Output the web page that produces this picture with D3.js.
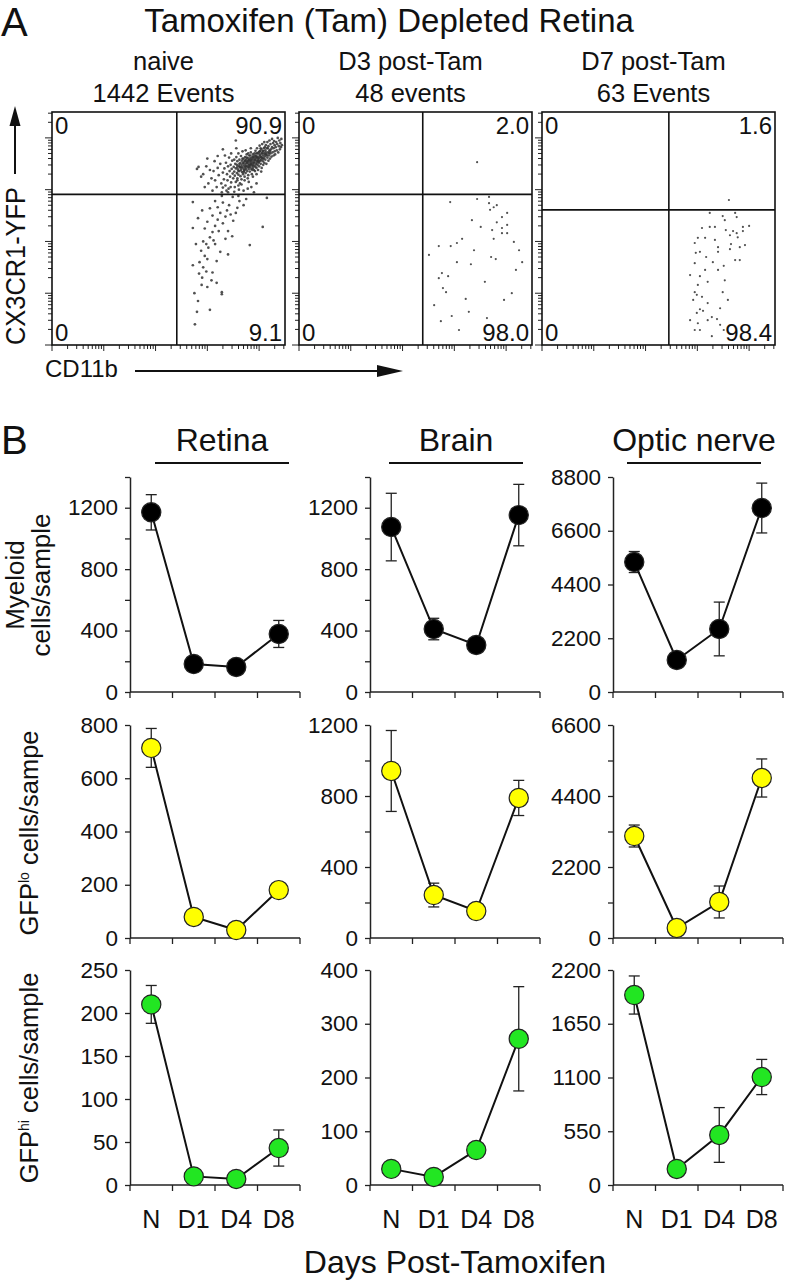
<!DOCTYPE html>
<html>
<head>
<meta charset="utf-8">
<script src="https://cdn.jsdelivr.net/npm/d3@7"></script>
<style>
  body { margin: 0; background: #fff; }
  svg text { font-family: "Liberation Sans", Arial, Helvetica, sans-serif; fill: #111; }
</style>
</head>
<body>
<div id="chart"></div>
<script>
// ---- A: flow events, stored as log10 fluorescence (x = CD11b, y = CX3CR1-YFP)
const naiveEvents = [
  [2.92,3.30],[2.98,3.45],[3.02,3.12],[3.05,3.38],[3.08,3.22],[3.10,2.98],[2.95,3.05],
  [3.12,3.36],[3.15,3.18],[3.18,3.05],[3.20,3.42],[3.22,3.28],[3.25,3.50],[3.27,3.12],[3.28,2.95],[3.30,3.33],[3.14,3.55],
  [3.32,3.20],[3.33,3.41],[3.35,3.08],[3.36,3.52],[3.38,3.30],[3.39,3.18],[3.40,3.45],[3.41,3.02],[3.42,3.62],[3.43,3.36],
  [3.44,3.25],[3.45,3.48],[3.46,3.14],[3.47,3.40],[3.48,3.56],[3.49,3.31],[3.50,3.22],[3.34,3.66],[3.37,2.98],[3.46,3.70],
  [3.51,3.44],[3.52,3.35],[3.52,3.58],[3.53,3.27],[3.54,3.50],[3.55,3.15],[3.55,3.41],[3.56,3.63],[3.57,3.32],[3.57,3.48],
  [3.58,3.22],[3.58,3.55],[3.59,3.39],[3.60,3.70],[3.60,3.29],[3.61,3.46],[3.62,3.36],[3.62,3.58],[3.63,3.12],[3.63,3.43],
  [3.64,3.52],[3.64,3.26],[3.65,3.65],[3.65,3.38],[3.66,3.48],[3.66,3.20],[3.67,3.56],[3.67,3.34],[3.68,3.44],[3.68,3.74],
  [3.69,3.30],[3.69,3.51],[3.70,3.40],[3.70,3.60],[3.53,3.05],[3.61,3.00],[3.56,3.80],
  [3.71,3.47],[3.71,3.36],[3.72,3.55],[3.72,3.25],[3.73,3.43],[3.73,3.63],[3.74,3.50],[3.74,3.32],[3.75,3.40],[3.75,3.58],
  [3.76,3.46],[3.76,3.68],[3.77,3.36],[3.77,3.53],[3.78,3.44],[3.78,3.61],[3.79,3.28],[3.79,3.50],[3.80,3.40],[3.80,3.57],
  [3.81,3.47],[3.81,3.66],[3.82,3.35],[3.82,3.53],[3.83,3.44],[3.83,3.61],[3.84,3.50],[3.84,3.72],[3.85,3.40],[3.85,3.57],
  [3.86,3.47],[3.86,3.30],[3.87,3.63],[3.87,3.53],[3.88,3.42],[3.88,3.68],[3.89,3.50],[3.89,3.58],[3.90,3.38],[3.90,3.62],
  [3.72,3.18],[3.78,3.22],[3.84,3.80],[3.74,3.76],[3.80,3.15],[3.88,3.25],
  [3.91,3.54],[3.91,3.46],[3.92,3.66],[3.92,3.36],[3.93,3.58],[3.93,3.75],[3.94,3.49],[3.94,3.62],[3.95,3.42],[3.95,3.70],
  [3.96,3.55],[3.96,3.80],[3.97,3.48],[3.97,3.64],[3.98,3.58],[3.98,3.38],[3.99,3.72],[3.99,3.52],[4.00,3.62],[4.00,3.45],
  [4.01,3.68],[4.01,3.85],[4.02,3.56],[4.02,3.74],[4.03,3.50],[4.03,3.64],[4.04,3.78],[4.04,3.58],[4.05,3.70],[4.05,3.42],
  [4.06,3.62],[4.06,3.88],[4.07,3.55],[4.07,3.75],[4.08,3.66],[4.08,3.48],[4.09,3.80],[4.09,3.60],[4.10,3.70],[4.10,3.52],
  [3.95,3.30],[4.04,3.35],[4.10,3.92],
  [4.11,3.64],[4.12,3.76],[4.12,3.58],[4.13,3.86],[4.14,3.68],[4.14,3.50],[4.15,3.80],[4.16,3.62],[4.16,3.92],[4.17,3.72],
  [4.18,3.56],[4.18,3.84],[4.19,3.66],[4.20,3.76],[4.20,3.95],[4.21,3.60],[4.22,3.70],[4.22,3.88],[4.23,3.78],[4.24,3.64],
  [4.25,3.82],[4.25,3.98],[4.26,3.72],[4.27,3.90],[4.28,3.66],[4.28,3.80],[4.29,3.94],[4.30,3.74],[4.30,3.86],
  [4.31,3.68],[4.32,3.82],[4.33,3.92],[4.34,3.76],[4.35,3.88],[4.36,4.00],[4.37,3.72],[4.38,3.84],[4.39,3.95],[4.40,3.78],
  [4.41,3.90],[4.42,3.82],[4.43,3.98],[4.44,3.86],
  [3.62,3.50],[3.66,3.42],[3.70,3.52],[3.74,3.45],[3.78,3.55],[3.82,3.48],[3.86,3.60],[3.90,3.52],[3.94,3.65],[3.98,3.55],
  [4.02,3.66],[4.06,3.70],[3.68,3.60],[3.72,3.38],[3.76,3.62],[3.80,3.44],[3.84,3.56],[3.88,3.46],[3.92,3.58],[3.96,3.62],
  [4.00,3.54],[4.04,3.62],[4.08,3.74],[4.12,3.68],[3.64,3.44],[3.70,3.34],[3.76,3.52],[3.83,3.66],[3.87,3.38],[3.93,3.44],
  [3.97,3.70],[4.03,3.80],[4.07,3.60],[4.13,3.72],[4.17,3.80],[4.21,3.74],[3.79,3.70],[3.85,3.50],[3.91,3.70],[3.99,3.60],
  [3.58,3.44],[3.60,3.36],[3.73,3.56],[3.81,3.58],[3.89,3.64],[3.95,3.52],[4.01,3.74],[4.11,3.82],[4.15,3.66],[4.19,3.70],
  [3.30,3.78],[3.55,3.95],[3.20,3.65],[3.00,3.60],[2.83,3.44],[2.88,3.25],[2.80,3.40],
  [3.45,3.05],[3.60,3.08],[3.70,2.98],[3.85,3.05],[3.95,3.12],[3.52,2.96],[3.66,3.10],[3.78,3.02],[3.40,2.95],[3.90,2.95],
  [3.30,3.04],[3.58,3.18],
  [2.72,2.76],[3.05,2.64],[3.49,2.86],[4.15,2.84],[4.07,2.28],[3.82,1.93],[2.72,2.26],[2.72,1.54],[2.89,1.16],[3.28,1.02],
  [3.28,0.98],[2.80,0.64],[3.05,0.68],[3.30,2.75],[3.38,2.60],[3.42,2.70],[3.25,2.55],[3.35,2.48],[3.45,2.52],[3.20,2.42],
  [3.30,2.35],[3.15,2.30],[3.22,2.20],[3.10,2.18],[3.05,2.08],[3.12,2.02],[2.98,1.95],[3.02,1.88],[2.92,2.00],[2.88,1.82],
  [2.95,1.72],[3.00,1.66],[2.85,1.60],[2.92,1.50],[2.98,1.42],[2.84,1.38],[2.90,1.30],[3.10,1.40],[3.18,1.62],[3.25,1.80],
  [3.15,1.95],[3.40,2.20],[3.50,2.40],[3.58,2.65],[3.62,2.78],[3.55,2.55],[3.70,2.70],[3.20,2.66],[3.10,2.50],[3.00,2.38],
  [2.95,2.25],[3.35,2.05],[2.78,1.95],[2.82,2.45],[3.08,1.25],[2.75,1.00],[2.82,0.85],[2.76,0.40],[3.00,1.12],[3.48,2.10],
  [3.28,2.88],[3.60,2.88],[3.75,2.82],[3.15,2.78],[2.90,2.60],[3.40,1.75],[3.18,1.20]
];
const d3Events = [
  [3.44,3.53],[2.92,2.76],[3.44,2.82],[3.67,2.86],[3.67,2.74],[3.76,2.66],[3.82,2.70],[3.69,2.61],[3.92,2.47],[4.02,2.55],
  [3.34,2.41],[3.82,2.37],[3.92,2.26],[4.02,2.32],[3.51,2.28],[3.73,2.22],[3.92,2.16],[4.02,2.16],[3.76,2.05],[4.15,1.99],
  [3.15,2.05],[3.05,1.97],[2.93,1.91],[2.70,1.91],[3.38,1.83],[3.71,1.70],[3.80,1.66],[3.32,1.56],[4.31,1.60],[4.19,1.45],
  [2.76,1.39],[2.88,1.33],[2.70,1.29],[2.78,1.10],[2.84,1.02],[3.22,0.89],[4.11,1.00],[2.95,0.56],[2.74,0.46],
  [2.61,0.77],[3.09,0.29],[3.28,0.64],[3.63,0.52],[3.96,0.87],[3.59,1.22],[3.05,1.60],[4.25,1.83],[2.51,1.74]
];
const d7Events = [
  [3.61,2.80],[3.24,2.55],[3.49,2.49],[3.73,2.55],[3.76,2.47],[3.53,2.41],[3.24,2.28],[3.34,2.28],[3.55,2.22],[3.69,2.20],
  [3.76,2.16],[3.88,2.28],[4.00,2.30],[3.88,2.20],[3.78,2.08],[3.63,2.12],[3.82,1.89],[3.63,1.85],[3.40,1.89],[3.15,2.07],
  [3.01,2.07],[2.95,1.97],[2.97,1.78],[3.05,1.80],[3.17,1.70],[3.40,1.80],[3.82,1.64],[3.51,1.53],[3.40,1.45],[2.95,1.58],
  [3.05,1.33],[3.01,1.16],[3.20,1.22],[2.95,1.02],[2.99,0.97],[3.09,0.93],[3.49,1.02],[3.44,0.71],[3.05,0.69],[3.11,0.66],
  [2.99,0.62],[3.28,0.54],[3.20,0.48],[3.38,0.50],[3.01,0.42],[3.51,0.29],
  [3.05,0.29],[3.28,0.17],[2.86,0.48],[2.92,0.87],[3.53,1.25],[3.73,1.64],[3.92,1.93],[3.59,0.87],[3.15,1.45],[3.34,2.03],
  [2.86,1.35],[3.44,0.39],[3.20,0.81],[2.95,0.29],[3.30,1.60],[3.65,1.95],[3.09,2.26]
];
const flowTitles = ["naive", "D3 post-Tam", "D7 post-Tam"];
const flowCounts = ["1442 Events", "48 events", "63 Events"];
const flowGateX = [2.41, 2.39, 2.45];
const flowGateY = [2.91, 2.91, 2.61];
const quadTopLeft = ["0", "0", "0"];
const quadTopRight = ["90.9", "2.0", "1.6"];
const quadBottomLeft = ["0", "0", "0"];
const quadBottomRight = ["9.1", "98.0", "98.4"];

// ---- B: cells per sample, mean and error
const days = ["N", "D1", "D4", "D8"];
const tissues = ["Retina", "Brain", "Optic nerve"];
const myeloidMean = [[1170, 182, 163, 378], [1074, 410, 306, 1152], [5320, 1310, 2580, 7530]];
const myeloidErr  = [[115, 20, 20, 88], [220, 70, 20, 200], [430, 150, 1100, 1020]];
const gfpLoMean   = [[714, 79, 30, 180], [941, 242, 152, 789], [3160, 310, 1116, 4958]];
const gfpLoErr    = [[73, 10, 10, 10], [228, 67, 20, 99], [340, 100, 495, 590]];
const gfpHiMean   = [[210, 10, 7, 43], [30, 15, 65, 272], [1944, 164, 512, 1105]];
const gfpHiErr    = [[22, 3, 3, 21], [5, 5, 8, 97], [195, 40, 280, 180]];

// axis tick labels and domains per tissue
const myeloidMax = [1400, 1400, 8800];
const myeloidTicks = [[0, 400, 800, 1200], [0, 400, 800, 1200], [0, 2200, 4400, 6600, 8800]];
const myeloidMinor = [[200, 600, 1000, 1400], [200, 600, 1000, 1400], []];
const gfpLoMax = [800, 1200, 6600];
const gfpLoTicks = [[0, 200, 400, 600, 800], [0, 400, 800, 1200], [0, 2200, 4400, 6600]];
const gfpLoMinor = [[], [200, 600, 1000], [1100, 3300, 5500]];
const gfpHiMax = [250, 400, 2200];
const gfpHiTicks = [[0, 50, 100, 150, 200, 250], [0, 100, 200, 300, 400], [0, 550, 1100, 1650, 2200]];
const gfpHiMinor = [[], [], []];

const W = 787, H = 1280;
const svg = d3.select("#chart").append("svg")
  .attr("width", W).attr("height", H)
  .attr("viewBox", `0 0 ${W} ${H}`);
svg.append("rect").attr("width", W).attr("height", H).attr("fill", "#fff");

// ================= Panel A =================
svg.append("text").attr("x", 1).attr("y", 36).attr("font-size", 40).text("A");
svg.append("text").attr("x", 389).attr("y", 32).attr("font-size", 33)
  .attr("text-anchor", "middle").text("Tamoxifen (Tam) Depleted Retina");

const flowLeft = [52, 299, 542];
const flowW = 233, flowTop = 112, flowBottom = 345;
const flowEvents = [naiveEvents, d3Events, d7Events];

// log ticks positions (decade + log10(k))
const logTicks = [];
for (let dec = 0; dec <= 4; dec++) {
  for (let k = 1; k <= 9; k++) {
    const v = dec + Math.log10(k);
    if (v <= 4.5) logTicks.push({ v: v, major: k === 1 });
  }
}

flowLeft.forEach(function(left, i) {
  const xs = d3.scaleLinear().domain([0, 4.5]).range([left, left + flowW]);
  const ys = d3.scaleLinear().domain([0, 4.5]).range([flowBottom, flowTop]);
  const g = svg.append("g");

  g.append("text").attr("x", left + flowW / 2 - 5).attr("y", 70)
    .attr("font-size", 25.5).attr("text-anchor", "middle").text(flowTitles[i]);
  g.append("text").attr("x", left + flowW / 2 - 5).attr("y", 102)
    .attr("font-size", 25.5).attr("text-anchor", "middle").text(flowCounts[i]);

  // events
  g.selectAll("circle.ev").data(flowEvents[i]).enter().append("circle")
    .attr("class", "ev")
    .attr("cx", d => xs(d[0])).attr("cy", d => ys(d[1]))
    .attr("r", i === 0 ? 1.35 : 1.1).attr("fill", "#333").attr("fill-opacity", 0.85);

  // left ticks
  g.selectAll("line.yt").data(logTicks).enter().append("line")
    .attr("x1", left).attr("x2", d => left - (d.major ? 7 : 4))
    .attr("y1", d => ys(d.v)).attr("y2", d => ys(d.v))
    .attr("stroke", "#222").attr("stroke-width", 1);
  // bottom ticks
  g.selectAll("line.xt").data(logTicks).enter().append("line")
    .attr("y1", flowBottom).attr("y2", d => flowBottom + (d.major ? 6 : 4))
    .attr("x1", d => xs(d.v)).attr("x2", d => xs(d.v))
    .attr("stroke", "#222").attr("stroke-width", 1);

  // gates
  g.append("line").attr("x1", xs(flowGateX[i])).attr("x2", xs(flowGateX[i]))
    .attr("y1", flowTop).attr("y2", flowBottom).attr("stroke", "#111").attr("stroke-width", 1.6);
  g.append("line").attr("x1", left).attr("x2", left + flowW)
    .attr("y1", ys(flowGateY[i])).attr("y2", ys(flowGateY[i])).attr("stroke", "#111").attr("stroke-width", 1.6);

  // frame
  g.append("rect").attr("x", left).attr("y", flowTop).attr("width", flowW).attr("height", flowBottom - flowTop)
    .attr("fill", "none").attr("stroke", "#111").attr("stroke-width", 1.6);

  // quadrant percentages
  g.append("text").attr("x", left + 3).attr("y", 134).attr("font-size", 24).text(quadTopLeft[i]);
  g.append("text").attr("x", left + flowW - 3).attr("y", 134).attr("font-size", 24)
    .attr("text-anchor", "end").text(quadTopRight[i]);
  g.append("text").attr("x", left + 3).attr("y", 341).attr("font-size", 24).text(quadBottomLeft[i]);
  g.append("text").attr("x", left + flowW - 3).attr("y", 341).attr("font-size", 24)
    .attr("text-anchor", "end").text(quadBottomRight[i]);
});

// axis names with arrows
svg.append("text").attr("transform", "translate(25,266) rotate(-90)")
  .attr("font-size", 28).attr("text-anchor", "middle")
  .attr("textLength", 158).attr("lengthAdjust", "spacingAndGlyphs").text("CX3CR1-YFP");
svg.append("line").attr("x1", 15).attr("x2", 15).attr("y1", 174).attr("y2", 122)
  .attr("stroke", "#111").attr("stroke-width", 2);
svg.append("path").attr("d", "M15,106 L9.5,126 L20.5,126 Z").attr("fill", "#111");

svg.append("text").attr("x", 45).attr("y", 377).attr("font-size", 24).text("CD11b");
svg.append("line").attr("x1", 135).attr("x2", 380).attr("y1", 371).attr("y2", 371)
  .attr("stroke", "#111").attr("stroke-width", 2);
svg.append("path").attr("d", "M403,371 L377,365 L377,377 Z").attr("fill", "#111");

// ================= Panel B =================
svg.append("text").attr("x", 1).attr("y", 454).attr("font-size", 40).text("B");

const colLeft = [130, 370, 613];
const plotW = 170;
const rowTop = [477, 725, 970];
const rowBottom = [692, 938, 1185];
// header centre offsets from each column's y axis
const headerOffset = [92, 86, 81];

tissues.forEach(function(t, c) {
  const cx = colLeft[c] + headerOffset[c];
  svg.append("text").attr("x", cx).attr("y", 451).attr("font-size", 32)
    .attr("text-anchor", "middle").text(t);
  svg.append("line").attr("x1", cx - 67).attr("x2", cx + 67).attr("y1", 463).attr("y2", 463)
    .attr("stroke", "#111").attr("stroke-width", 2);
});

const rows = [
  { mean: myeloidMean, err: myeloidErr, max: myeloidMax, ticks: myeloidTicks, minor: myeloidMinor, fill: "#000" },
  { mean: gfpLoMean, err: gfpLoErr, max: gfpLoMax, ticks: gfpLoTicks, minor: gfpLoMinor, fill: "#ffff00" },
  { mean: gfpHiMean, err: gfpHiErr, max: gfpHiMax, ticks: gfpHiTicks, minor: gfpHiMinor, fill: "#22e622" }
];

rows.forEach(function(row, r) {
  tissues.forEach(function(t, c) {
    const left = colLeft[c];
    const x = d3.scaleBand().domain(days).range([left, left + plotW]);
    const y = d3.scaleLinear().domain([0, row.max[c]]).range([rowBottom[r], rowTop[r]]);
    const g = svg.append("g");

    // y axis
    const ya = g.append("g").attr("transform", `translate(${left},0)`)
      .call(d3.axisLeft(y).tickValues(row.ticks[c]).tickSize(5).tickSizeOuter(0).tickPadding(7).tickFormat(d3.format("d")));
    ya.selectAll("text").attr("font-size", 22.5).style("font-family", "'Liberation Sans', Arial, sans-serif").attr("fill", "#111");
    ya.selectAll("line").attr("stroke", "#222").attr("stroke-width", 1.3);
    ya.select(".domain").attr("stroke", "#222").attr("stroke-width", 1.5);
    if (row.minor[c].length) {
      const ym = g.append("g").attr("transform", `translate(${left},0)`)
        .call(d3.axisLeft(y).tickValues(row.minor[c]).tickSize(5).tickFormat(""));
      ym.select(".domain").remove();
      ym.selectAll("line").attr("stroke", "#222").attr("stroke-width", 1.3);
    }

    // x axis: line with ticks at band edges
    const edges = days.map(d => x(d)).concat([left + plotW]);
    g.append("line").attr("x1", left).attr("x2", left + plotW)
      .attr("y1", rowBottom[r]).attr("y2", rowBottom[r]).attr("stroke", "#222").attr("stroke-width", 1.5);
    g.selectAll("line.xe").data(edges).enter().append("line")
      .attr("x1", d => d).attr("x2", d => d)
      .attr("y1", rowBottom[r]).attr("y2", rowBottom[r] + 6)
      .attr("stroke", "#222").attr("stroke-width", 1.3);
    if (r === 2) {
      g.selectAll("text.xl").data(days).enter().append("text")
        .attr("x", d => x(d) + x.bandwidth() / 2).attr("y", 1228)
        .attr("font-size", 25).attr("text-anchor", "middle").text(d => d);
    }

    const pts = days.map((d, i) => ({ day: d, m: row.mean[c][i], e: row.err[c][i] }));
    const px = d => x(d.day) + x.bandwidth() / 2;

    // error bars
    pts.forEach(function(p) {
      const x0 = px(p);
      g.append("line").attr("x1", x0).attr("x2", x0).attr("y1", y(p.m - p.e)).attr("y2", y(p.m + p.e))
        .attr("stroke", "#222").attr("stroke-width", 1.3);
      [p.m - p.e, p.m + p.e].forEach(function(v) {
        g.append("line").attr("x1", x0 - 5.5).attr("x2", x0 + 5.5).attr("y1", y(v)).attr("y2", y(v))
          .attr("stroke", "#222").attr("stroke-width", 1.3);
      });
    });

    // connecting line
    g.append("path").datum(pts)
      .attr("d", d3.line().x(px).y(d => y(d.m)))
      .attr("fill", "none").attr("stroke", "#111").attr("stroke-width", 2);

    // markers
    g.selectAll("circle.pt").data(pts).enter().append("circle")
      .attr("cx", px).attr("cy", d => y(d.m)).attr("r", 9.6)
      .attr("fill", row.fill).attr("stroke", "#222").attr("stroke-width", 1.2);
  });
});

// y axis titles
svg.append("text").attr("transform", "translate(24,585) rotate(-90)")
  .attr("font-size", 26).attr("text-anchor", "middle").text("Myeloid");
svg.append("text").attr("transform", "translate(50,585) rotate(-90)")
  .attr("font-size", 26).attr("text-anchor", "middle").text("cells/sample");

const loLabel = svg.append("text").attr("transform", "translate(38,833) rotate(-90)")
  .attr("font-size", 25.5).attr("text-anchor", "middle");
loLabel.append("tspan").text("GFP");
loLabel.append("tspan").attr("font-size", 14).attr("dy", -9).text("lo");
loLabel.append("tspan").attr("dy", 9).text(" cells/sampe");

const hiLabel = svg.append("text").attr("transform", "translate(38,1078) rotate(-90)")
  .attr("font-size", 25.5).attr("text-anchor", "middle");
hiLabel.append("tspan").text("GFP");
hiLabel.append("tspan").attr("font-size", 14).attr("dy", -9).text("hi");
hiLabel.append("tspan").attr("dy", 9).text(" cells/sample");

svg.append("text").attr("x", 455).attr("y", 1273).attr("font-size", 32)
  .attr("text-anchor", "middle").text("Days Post-Tamoxifen");
</script>
</body>
</html>
